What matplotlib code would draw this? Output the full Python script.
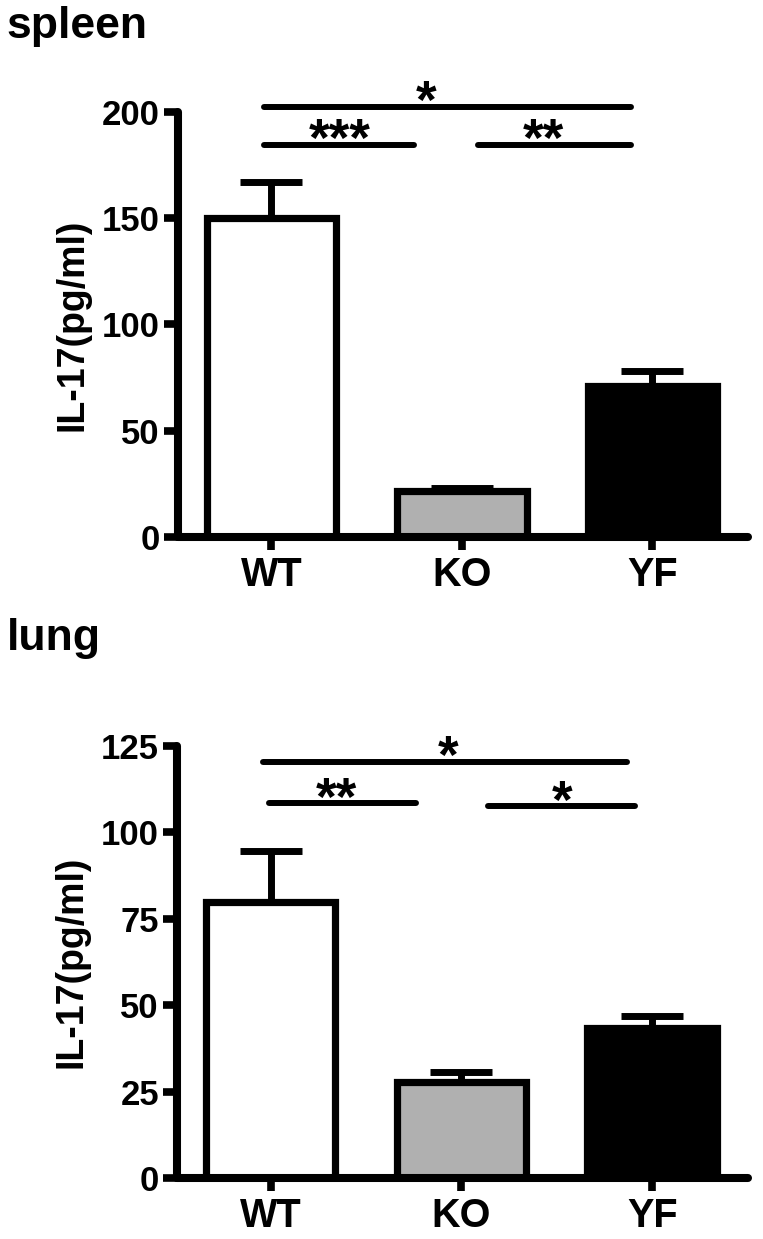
import matplotlib
matplotlib.use("Agg")
import numpy as np
from matplotlib import pyplot as plt

plt.rcParams["font.family"] = ["Liberation Sans", "DejaVu Sans"]
plt.rcParams["font.weight"] = "bold"

GROUPS = ["WT", "KO", "YF"]
COLORS = ["white", "#b0b0b0", "black"]

spleen_mean = [150, 21.7, 71]
spleen_sem = [17, 1.3, 7]
spleen_ticks = [0, 50, 100, 150, 200]

lung_mean = [79.8, 27.8, 43.5]
lung_sem = [14.9, 2.8, 3.4]
lung_ticks = [0, 25, 50, 75, 100, 125]

# significance bars: (x start, x end, height, label, label x)
spleen_sig = [
    (-0.04, 1.886, 202.5, "*", 0.81),
    (-0.04, 0.75, 184.5, "***", 0.36),
    (1.085, 1.886, 184.5, "**", 1.43),
]
lung_sig = [
    (-0.04, 1.87, 120.4, "*", 0.93),
    (-0.01, 0.76, 108.4, "**", 0.345),
    (1.14, 1.91, 107.5, "*", 1.53),
]


def draw_panel(ax, means, sems, ticks, sig):
    x = np.arange(len(GROUPS))
    # upper error only; the lower cap sits at the bar top and is hidden by the edge
    ax.errorbar(x, means, yerr=[np.zeros(len(sems)), sems], fmt="none",
                ecolor="black", elinewidth=5, capsize=22, capthick=5, zorder=1)
    ax.bar(x, means, width=0.68, color=COLORS, edgecolor="black",
           linewidth=5.2, zorder=2)
    ax.set_xlim(-0.49, 2.5)
    ax.set_ylim(0, ticks[-1])
    ax.set_yticks(ticks)
    ax.set_xticks(x)
    ax.set_xticklabels(GROUPS, fontsize=28.5, fontweight="bold")
    for lab in ax.get_yticklabels():
        lab.set_fontsize(25)
        lab.set_fontweight("bold")
    ax.tick_params(axis="y", length=10, width=5.5, pad=3)
    ax.tick_params(axis="x", length=9, width=5.5, pad=5)
    for side in ["top", "right"]:
        ax.spines[side].set_visible(False)
    for side in ["left", "bottom"]:
        ax.spines[side].set_linewidth(5.8)
        ax.spines[side].set_capstyle("round")
    ax.set_ylabel("IL-17(pg/ml)", fontsize=27, fontweight="bold")
    ax.yaxis.set_label_coords(-0.154, 0.5)
    for x0, x1, h, label, lx in sig:
        ax.plot([x0, x1], [h, h], color="black", lw=4.3,
                solid_capstyle="round", clip_on=False)
        ax.annotate(label, xy=(lx, h), xytext=(0, -8),
                    textcoords="offset points", ha="center", va="baseline",
                    fontsize=38, fontweight="bold", annotation_clip=False)


fig = plt.figure(figsize=(7.63, 12.39), dpi=100)
ax1 = fig.add_axes([0.2333, 0.5666, 0.7467, 0.3430])
ax2 = fig.add_axes([0.2320, 0.0492, 0.7480, 0.3487])

draw_panel(ax1, spleen_mean, spleen_sem, spleen_ticks, spleen_sig)
draw_panel(ax2, lung_mean, lung_sem, lung_ticks, lung_sig)

fig.text(0.009, 0.9693, "spleen", fontsize=32, fontweight="bold", va="baseline")
fig.text(0.009, 0.4754, "lung", fontsize=32, fontweight="bold", va="baseline")

fig.savefig("out.png", dpi=100)
